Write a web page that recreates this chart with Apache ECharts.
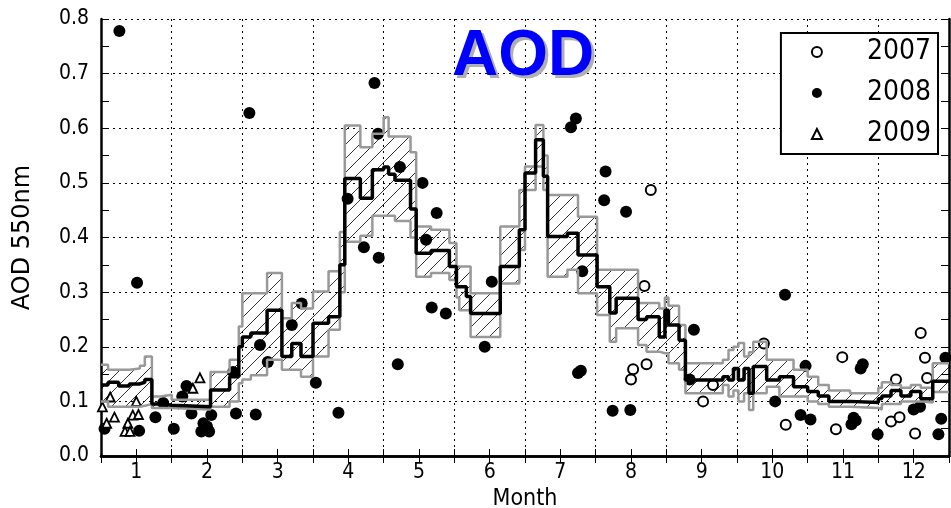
<!DOCTYPE html>
<html><head><meta charset="utf-8">
<script src="https://cdn.jsdelivr.net/npm/echarts@6/dist/echarts.min.js"></script>
<style>html,body{margin:0;padding:0;background:#fff}#c{width:951px;height:508px}</style>
</head><body><div id="c"></div>
<script>
// Step breakpoints (month) and the three running curves
const stepX    = [0.5,0.6,0.75,0.9,1.05,1.12,1.22,1.35,1.5,2.05,2.32,2.45,2.5,2.62,2.85,3.06,3.2,3.33,3.5,3.72,3.88,3.95,4.17,4.34,4.5,4.57,4.66,4.88,4.96,5.17,5.43,5.53,5.57,5.67,5.73,6.15,6.42,6.5,6.65,6.76,6.82,7.1,7.25,7.52,7.7,7.79,8.1,8.22,8.4,8.48,8.53,8.68,8.77,9.3,9.38,9.45,9.52,9.6,9.67,9.73,9.92,10.1,10.3,10.5,10.65,10.8,11.1,11.5,11.55,11.68,11.82,11.96,12.1,12.27,12.5];
const meanAOD  = [0.13,0.135,0.128,0.132,0.135,0.14,0.095,0.093,0.09,0.121,0.145,0.2,0.218,0.225,0.267,0.182,0.206,0.182,0.243,0.255,0.35,0.508,0.472,0.524,0.529,0.516,0.505,0.452,0.371,0.376,0.347,0.31,0.31,0.292,0.261,0.347,0.414,0.518,0.579,0.512,0.402,0.408,0.368,0.31,0.262,0.289,0.25,0.255,0.218,0.267,0.24,0.212,0.139,0.145,0.139,0.16,0.139,0.16,0.115,0.164,0.139,0.145,0.127,0.118,0.11,0.1,0.098,0.105,0.11,0.12,0.11,0.118,0.105,0.137,0.137];
const upperAOD = [0.167,0.158,0.158,0.16,0.165,0.182,0.109,0.112,0.103,0.154,0.176,0.237,0.298,0.298,0.335,0.252,0.28,0.27,0.301,0.338,0.41,0.605,0.565,0.59,0.62,0.585,0.585,0.556,0.42,0.414,0.39,0.347,0.347,0.347,0.298,0.42,0.487,0.53,0.606,0.55,0.478,0.478,0.438,0.341,0.341,0.341,0.28,0.28,0.27,0.29,0.275,0.24,0.17,0.176,0.194,0.2,0.207,0.182,0.19,0.209,0.176,0.176,0.158,0.145,0.13,0.12,0.115,0.125,0.135,0.13,0.125,0.13,0.125,0.17,0.17];
const lowerAOD = [0.1,0.09,0.09,0.09,0.092,0.095,0.088,0.088,0.085,0.09,0.1,0.133,0.14,0.148,0.176,0.158,0.158,0.145,0.182,0.231,0.3,0.392,0.403,0.44,0.44,0.44,0.43,0.4,0.328,0.335,0.322,0.29,0.267,0.267,0.218,0.316,0.377,0.487,0.53,0.487,0.328,0.341,0.298,0.258,0.209,0.234,0.203,0.191,0.188,0.188,0.17,0.158,0.115,0.13,0.109,0.12,0.1,0.115,0.084,0.115,0.127,0.109,0.109,0.1,0.095,0.09,0.088,0.085,0.095,0.095,0.1,0.1,0.098,0.117,0.117];

// Daily observations [month, AOD]
const obs2007 = [[8.28,0.487],[8.19,0.311],[8.03,0.159],[8.0,0.14],[8.22,0.168],[9.02,0.1],[9.16,0.13],[9.88,0.206],[10.19,0.057],[10.99,0.181],[10.9,0.049],[11.68,0.063],[11.8,0.071],[11.75,0.14],[12.02,0.041],[12.1,0.225],[12.16,0.18],[12.19,0.143]];
const obs2008 = [[0.76,0.778],[1.01,0.317],[2.6,0.628],[4.37,0.683],[4.42,0.59],[4.73,0.529],[5.05,0.5],[5.25,0.445],[3.99,0.471],[7.22,0.618],[7.15,0.602],[7.64,0.521],[7.62,0.468],[7.93,0.447],[7.31,0.338],[7.25,0.152],[7.29,0.156],[7.74,0.083],[7.99,0.084],[8.89,0.231],[8.83,0.14],[10.04,0.1],[10.18,0.295],[10.47,0.165],[10.4,0.075],[10.54,0.067],[11.25,0.16],[11.28,0.168],[11.12,0.058],[11.18,0.065],[11.15,0.07],[11.49,0.04],[12.0,0.085],[12.09,0.09],[12.35,0.04],[12.39,0.068],[12.45,0.18],[5.1,0.396],[4.22,0.382],[4.43,0.363],[5.18,0.272],[5.38,0.261],[6.03,0.319],[5.93,0.2],[4.7,0.168],[3.34,0.279],[3.2,0.24],[2.75,0.203],[2.86,0.172],[3.54,0.134],[2.69,0.076],[3.86,0.079],[2.37,0.154],[2.41,0.078],[0.55,0.05],[1.04,0.046],[1.27,0.071],[1.53,0.05],[1.38,0.097],[1.65,0.109],[1.71,0.128],[1.78,0.078],[1.92,0.045],[2.0,0.054],[2.06,0.075],[1.95,0.06],[2.03,0.045]];
const obs2009 = [[1.9,0.143],[1.8,0.124],[0.63,0.108],[0.52,0.09],[1.0,0.1],[0.69,0.071],[0.58,0.06],[0.95,0.075],[1.03,0.076],[0.88,0.06],[0.84,0.045],[0.91,0.045]];

const monthTicks = [1,2,3,4,5,6,7,8,9,10,11,12];
const yTicks = [0.0,0.1,0.2,0.3,0.4,0.5,0.6,0.7,0.8];

function hatch() {
  const s = 14, c = document.createElement('canvas');
  c.width = s; c.height = s;
  const g = c.getContext('2d');
  g.strokeStyle = '#000'; g.lineWidth = 0.8;
  g.beginPath();
  g.moveTo(0, s); g.lineTo(s, 0);
  g.moveTo(-2, 2); g.lineTo(2, -2);
  g.moveTo(s - 2, s + 2); g.lineTo(s + 2, s - 2);
  g.stroke();
  return c;
}
const hatchPattern = {image: hatch(), repeat: 'repeat'};

const pair = (ys) => stepX.map((x, i) => [x, ys[i]]);
// one hatched cell per step: [x start, x end, upper, lower]
const bandCells = stepX.slice(0, -1).map((x, i) => [x, stepX[i + 1], upperAOD[i], lowerAOD[i]]);
const FONT = "'DejaVu Sans Condensed', 'DejaVu Sans'";

const chart = echarts.init(document.getElementById('c'), null, {renderer: 'canvas'});
const titleText = {fontFamily: 'Liberation Sans', fontWeight: 'bold', fontSize: 64};
chart.setOption({
  animation: false,
  backgroundColor: '#fff',
  title: [
    {text: 'AOD', left: 450, top: 23, z: 5, textStyle: Object.assign({color: '#b0b0b0'}, titleText)},
    {text: 'AOD', left: 447, top: 20, z: 6, textStyle: Object.assign({color: '#0000ff'}, titleText)}
  ],
  legend: {
    orient: 'vertical', right: 13, top: 33,
    data: ['2007', '2008', '2009'],
    backgroundColor: '#fff', borderColor: '#000', borderWidth: 2,
    padding: [5, 7, 6, 30], itemGap: 13, itemWidth: 10, itemHeight: 10,
    textStyle: {fontFamily: FONT, fontSize: 28, color: '#000', padding: [0, 0, 0, 40]}
  },
  grid: {left: 101, right: 2, top: 19, bottom: 52, containLabel: false, outerBoundsMode: 'none'},
  xAxis: [
    {type: 'value', min: 0.5, max: 12.5, interval: 0.5, position: 'bottom',
     name: 'Month', nameLocation: 'middle', nameGap: 29,
     nameTextStyle: {fontFamily: FONT, fontSize: 23, color: '#000'},
     axisLine: {show: true, lineStyle: {color: '#000', width: 2.5}},
     axisTick: {show: true, inside: true, length: 7, lineStyle: {color: '#000', width: 1}},
     axisLabel: {margin: 6, fontFamily: FONT, fontSize: 21, color: '#000',
       formatter: (v) => monthTicks.includes(v) ? String(v) : ''},
     splitLine: {show: false}},
    {type: 'value', min: 0, max: 12, interval: 1, position: 'top',
     axisLine: {show: true, lineStyle: {color: '#000', width: 2.5}},
     axisTick: {show: true, inside: true, length: 7, lineStyle: {color: '#000'}},
     minorTick: {show: true, splitNumber: 2, length: 7, lineStyle: {color: '#000'}},
     axisLabel: {show: false},
     splitLine: {show: true, lineStyle: {color: '#000', width: 1, type: [2, 4]}}}
  ],
  yAxis: [
    {type: 'value', min: 0, max: 0.8, interval: 0.1, position: 'left',
     name: 'AOD 550nm', nameLocation: 'middle', nameGap: 66, nameRotate: 90,
     nameTextStyle: {fontFamily: 'DejaVu Sans', fontSize: 24, color: '#000'},
     axisLine: {show: true, lineStyle: {color: '#000', width: 2.5}},
     axisTick: {show: true, inside: true, length: 8, lineStyle: {color: '#000'}},
     minorTick: {show: true, splitNumber: 2, length: 8, lineStyle: {color: '#000'}},
     axisLabel: {margin: 12, fontFamily: FONT, fontSize: 21, color: '#000',
       formatter: (v) => { const t = yTicks.find(k => Math.abs(k - v) < 1e-9); return t === undefined ? '' : t.toFixed(1); }},
     splitLine: {show: true, lineStyle: {color: '#000', width: 1, type: [2, 4]}}},
    {type: 'value', min: 0, max: 0.8, interval: 0.1, position: 'right',
     axisLine: {show: true, lineStyle: {color: '#000', width: 2.5}},
     axisTick: {show: true, inside: true, length: 8, lineStyle: {color: '#000'}},
     minorTick: {show: true, splitNumber: 2, length: 8, lineStyle: {color: '#000'}},
     axisLabel: {show: false}, splitLine: {show: false}}
  ],
  series: [
    {name: '2007', type: 'scatter', data: obs2007, symbol: 'circle', symbolSize: 10,
     itemStyle: {color: '#fff', borderColor: '#000', borderWidth: 2, opacity: 1}, z: 2},
    {name: '2008', type: 'scatter', data: obs2008, symbol: 'circle', symbolSize: 12,
     itemStyle: {color: '#000', opacity: 1}, z: 2},
    {name: '2009', type: 'scatter', data: obs2009, symbol: 'triangle', symbolSize: 9,
     itemStyle: {color: '#fff', borderColor: '#000', borderWidth: 1.8, opacity: 1}, z: 2},
    {name: 'band', type: 'custom', data: bandCells, encode: {x: [0, 1], y: [2, 3]}, silent: true, z: 3,
     renderItem: (params, api) => {
       const a = api.coord([api.value(0), api.value(2)]);
       const b = api.coord([api.value(1), api.value(3)]);
       return {type: 'rect', silent: true,
         shape: {x: a[0], y: a[1], width: b[0] - a[0] + 0.6, height: b[1] - a[1]},
         style: {fill: hatchPattern}};
     }},
    {name: 'upper', type: 'line', data: pair(upperAOD), step: 'end', symbol: 'none',
     lineStyle: {color: '#999999', width: 2.5}, z: 4},
    {name: 'lower', type: 'line', data: pair(lowerAOD), step: 'end', symbol: 'none',
     lineStyle: {color: '#999999', width: 2.5}, z: 4},
    {name: 'mean', type: 'line', data: pair(meanAOD), step: 'end', symbol: 'none',
     lineStyle: {color: '#000', width: 3.5}, z: 5}
  ]
});
</script></body></html>
